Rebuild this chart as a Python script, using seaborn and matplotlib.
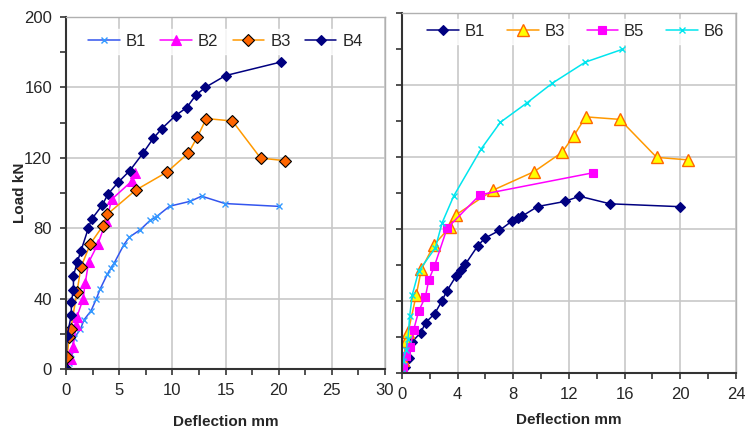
import numpy as np
import seaborn as sns
import matplotlib.pyplot as plt
from matplotlib.ticker import MultipleLocator

# values (deflection mm, load kN)
b1_x = [0, 0.25, 0.5, 0.75, 1.35, 1.7, 2.35, 2.85, 3.2, 3.9, 4.25, 4.55, 5.45, 5.95,
        7.0, 7.9, 8.35, 8.6, 9.75, 11.7, 12.75, 14.95, 20.0]
b1_y = [0, 3.5, 8.5, 17.5, 22.5, 28, 33, 39.8, 45.3, 54, 57.5, 60.4, 70.7, 74.9,
        79.2, 84.4, 86, 87, 92.5, 95.3, 98.2, 94, 92.4]

b2_x = [0, 0.47, 0.66, 0.97, 1.03, 1.6, 1.8, 2.13, 3.0, 3.8, 4.3, 6.2, 6.5]
b2_y = [0, 5.5, 12.7, 25, 29.7, 39.6, 48.7, 60.6, 71, 84.3, 96.4, 106.8, 111.6]

b3_x = [0, 0.1, 0.3, 0.45, 1.03, 1.4, 2.3, 3.45, 3.9, 6.55, 9.5, 11.5, 12.35, 13.2,
        15.65, 18.3, 20.55]
b3_y = [0, 7, 18, 23, 43.6, 57.8, 71.2, 81.2, 88, 101.6, 111.9, 122.6, 131.8, 142.3,
        140.9, 119.8, 118.4]

b4_x = [0, 0.1, 0.5, 0.5, 0.7, 0.7, 1.07, 1.4, 2.1, 2.4, 3.4, 3.95, 4.9, 6.0, 7.25,
        8.2, 9.0, 10.3, 11.35, 12.2, 13.1, 15.0, 20.2]
b4_y = [0, 18.7, 30.7, 38, 45, 53, 61, 67, 80, 85, 93, 99.4, 106, 112.7, 122.7,
        131, 136.5, 144, 148.5, 155.5, 160, 166.7, 174.4]

b5_x = [0, 0.07, 0.31, 0.6, 0.84, 1.2, 1.68, 1.92, 2.33, 3.24, 5.6, 13.7]
b5_y = [0, 3.2, 9.3, 14.3, 24.1, 34.4, 42.3, 51.6, 59.4, 80.4, 99, 111.2]

b6_x = [0, 0.07, 0.31, 0.43, 0.55, 0.74, 1.2, 2.4, 2.88, 3.72, 5.68, 7.07, 8.95,
        10.8, 13.17, 15.83]
b6_y = [0, 6.9, 13, 18.9, 31.6, 43.5, 56.6, 69.6, 83.4, 98.4, 124.4, 139.3, 149.9,
        161, 172.7, 179.8]

sns.set_theme(style="white")
plt.rcParams['font.family'] = ['Liberation Sans', 'DejaVu Sans']

fig = plt.figure(figsize=(7.45, 4.29), dpi=100)
ax1 = fig.add_axes([0.0886, 0.1399, 0.4282, 0.8205])
ax2 = fig.add_axes([0.5396, 0.1305, 0.4483, 0.8392])


def draw(ax, x, y, label, color, marker, ms, mfc, mec, mew=0.8):
    sns.lineplot(x=x, y=y, ax=ax, sort=False, estimator=None, label=label,
                 color=color, lw=1.1, marker=marker, ms=ms, mfc=mfc, mec=mec, mew=mew)


# left panel
draw(ax1, b1_x, b1_y, 'B1', '#3355ee', 'x', 5, '#3399ff', '#3399ff', 1.0)
draw(ax1, b2_x, b2_y, 'B2', '#ff00ff', '^', 7, '#ff00ff', '#ff00ff')
draw(ax1, b3_x, b3_y, 'B3', '#ff9900', 'D', 6, '#ff6600', 'black')
draw(ax1, b4_x, b4_y, 'B4', '#000080', 'D', 5.5, '#000080', '#000080')

# right panel
draw(ax2, b1_x, b1_y, 'B1', '#000080', 'D', 5.5, '#000080', '#000080')
draw(ax2, b3_x, b3_y, 'B3', '#ff9900', '^', 8, '#ffff00', '#ff6600', 1.0)
draw(ax2, b5_x, b5_y, 'B5', '#ff00ff', 's', 6, '#ff00ff', '#ff00ff')
draw(ax2, b6_x, b6_y, 'B6', '#00e5ee', 'x', 5, '#00e5ee', '#00e5ee', 1.0)

legend_opts = {ax1: dict(bbox_to_anchor=(0.5, 0.983), columnspacing=0.85),
               ax2: dict(bbox_to_anchor=(0.52, 1.0), columnspacing=1.3)}
xlabel_pad = {ax1: 12, ax2: 8}

for ax, xmax, xmaj, xmin in [(ax1, 30, 5, 2.5), (ax2, 24, 4, 2)]:
    ax.set_xlim(0, xmax)
    ax.set_ylim(0, 200)
    ax.xaxis.set_major_locator(MultipleLocator(xmaj))
    ax.xaxis.set_minor_locator(MultipleLocator(xmin))
    ax.yaxis.set_major_locator(MultipleLocator(40))
    ax.yaxis.set_minor_locator(MultipleLocator(20))
    ax.grid(True, which='major', color='#c8c8c8', lw=1.2)
    ax.set_axisbelow(True)
    ax.tick_params(which='both', direction='out', length=4, width=1.2, color='#333333',
                   labelsize=12, left=True, bottom=True, pad=6)
    for s in ['left', 'bottom']:
        ax.spines[s].set_color('#333333')
        ax.spines[s].set_linewidth(1.5)
    for s in ['top', 'right']:
        ax.spines[s].set_color('#b0b0b0')
        ax.spines[s].set_linewidth(1.0)
    ax.set_xlabel('Deflection mm', fontsize=11, fontweight='bold', labelpad=xlabel_pad[ax])
    leg = ax.legend(loc='upper center', ncol=4, fontsize=12, frameon=True,
                    handlelength=1.9, handletextpad=0.35, borderpad=0.3,
                    borderaxespad=0.35, fancybox=False, **legend_opts[ax])
    leg.get_frame().set_facecolor('white')
    leg.get_frame().set_edgecolor('white')

ax1.set_ylabel('Load kN', fontsize=11, fontweight='bold', labelpad=-2)
ax2.set_ylabel('')
ax2.tick_params(labelleft=False)

plt.savefig('out.png', dpi=100)
